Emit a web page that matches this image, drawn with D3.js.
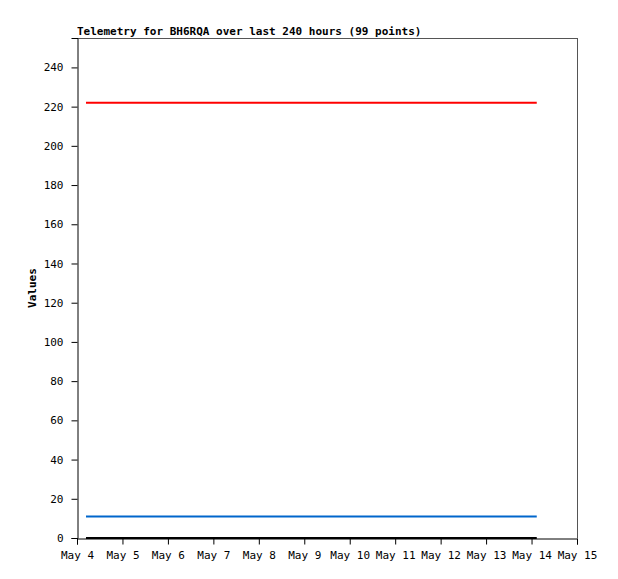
<!DOCTYPE html>
<html><head><meta charset="utf-8">
<script src="https://cdn.jsdelivr.net/npm/d3@7/dist/d3.min.js"></script>
<style>body{margin:0;background:#fff}svg{display:block}text{font-family:"DejaVu Sans Mono","Liberation Mono",monospace}</style>
</head><body>
<script>
const title = "Telemetry for BH6RQA over last 240 hours (99 points)";
const yLabel = "Values";
const times = ["2024-05-04T04:45", "2024-05-14T02:45"];
const seriesRed = [222, 222];
const seriesBlue = [11, 11];
const seriesBlack = [0, 0];
const yTicks = [0, 20, 40, 60, 80, 100, 120, 140, 160, 180, 200, 220, 240];
const xTickDays = ["2024-05-04","2024-05-05","2024-05-06","2024-05-07","2024-05-08","2024-05-09","2024-05-10","2024-05-11","2024-05-12","2024-05-13","2024-05-14","2024-05-15"];
const seriesList = [
  {values: seriesBlack, color: "#000000", width: 2},
  {values: seriesBlue, color: "#0066cc", width: 2},
  {values: seriesRed, color: "#ff0000", width: 2}
];

const W = 618, H = 579;
const m = {left: 77, right: 41, top: 38, bottom: 41};
const svg = d3.select("body").append("svg").attr("width", W).attr("height", H);
const parse = d3.timeParse("%Y-%m-%dT%H:%M");
const parseDay = d3.timeParse("%Y-%m-%d");
const x = d3.scaleTime().domain([parseDay(xTickDays[0]), parseDay(xTickDays[xTickDays.length-1])]).range([m.left, W - m.right]);
const y = d3.scaleLinear().domain([0, 255]).range([H - m.bottom, m.top]);

// frame
svg.append("line").attr("x1", m.left).attr("x2", W - m.right).attr("y1", m.top + 0.5).attr("y2", m.top + 0.5).attr("stroke", "#555");
svg.append("line").attr("x1", W - m.right + 0.5).attr("x2", W - m.right + 0.5).attr("y1", m.top).attr("y2", H - m.bottom).attr("stroke", "#555");

const line = d3.line().x((d, i) => x(parse(times[i]))).y(d => y(d));
seriesList.forEach(s => {
  svg.append("path").datum(s.values).attr("d", line).attr("fill", "none")
    .attr("stroke", s.color).attr("stroke-width", s.width);
});

const yAxis = svg.append("g").attr("transform", `translate(${m.left + 0.5},0)`)
  .call(d3.axisLeft(y).tickValues(yTicks).tickSize(6).tickPadding(8));
const xAxis = svg.append("g").attr("transform", `translate(0,${H - m.bottom + 0.5})`)
  .call(d3.axisBottom(x).tickValues(xTickDays.map(parseDay)).tickFormat(d3.timeFormat("May %-d")).tickSize(6).tickPadding(7));
[yAxis, xAxis].forEach(a => {
  a.selectAll("text").attr("font-size", 11).attr("fill", "#000").style("font-family", '"DejaVu Sans Mono",monospace');
  a.selectAll("line,path").attr("stroke", "#000");
});

svg.append("text").attr("x", m.left).attr("y", 35).attr("font-size", 11).attr("font-weight", "bold").text(title);
svg.append("text").attr("transform", `translate(36,${(m.top + H - m.bottom) / 2}) rotate(-90)`)
  .attr("text-anchor", "middle").attr("font-size", 11).attr("font-weight", "bold").text(yLabel);
</script>
</body></html>
